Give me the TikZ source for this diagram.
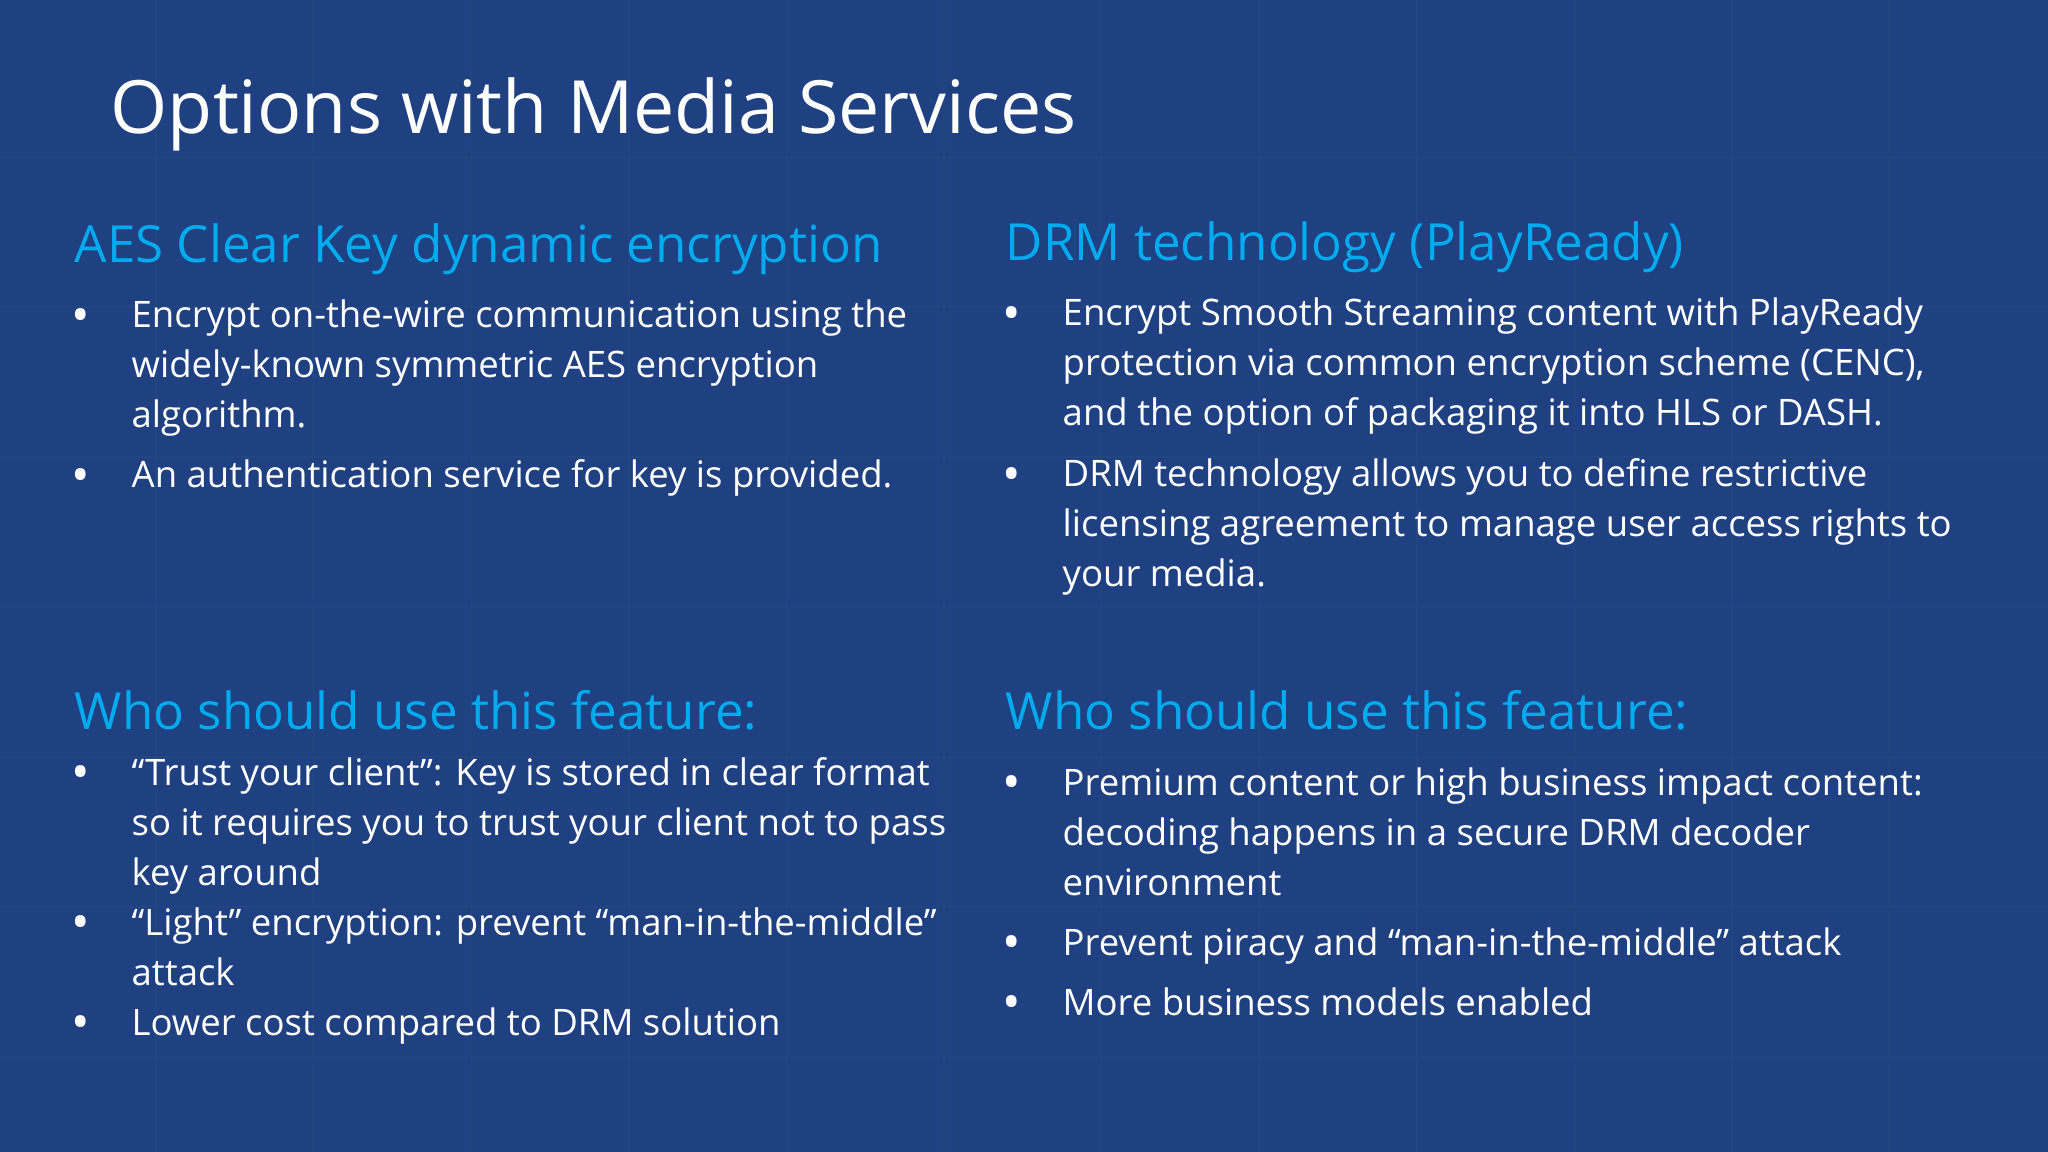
\documentclass[tikz,border=0pt]{standalone}
\usepackage{fontspec}
\setmainfont{Open Sans}
\definecolor{slidebg}{HTML}{1F4181}
\definecolor{slidegrid}{HTML}{234680}
\definecolor{headblue}{HTML}{00AAEF}
\begin{document}
\begin{tikzpicture}
[x=0.01cm,y=-0.01cm,
title/.style = {anchor=base west, inner sep=0pt, text=white, font=\fontsize{20.9}{25}\selectfont},
head/.style = {anchor=base west, inner sep=0pt, text=headblue, font=\fontsize{14.55}{18}\selectfont},
line/.style = {anchor=base west, inner sep=0pt, text=white, font=\fontsize{10.38}{14}\selectfont},
dot/.style = {anchor=base, inner sep=0pt, yshift=-1.4pt, text=white, font=\fontsize{14}{14}\selectfont},]

\fill [slidebg] (0,0) rectangle (2048,1152);
\useasboundingbox (0,0) rectangle (2048,1152);
\foreach \gx in {0,...,12} \draw [slidegrid,line width=0.4pt] (\gx*157.6-1.6,0)--(\gx*157.6-1.6,1152);
\foreach \gy in {1,...,7} \draw [slidegrid,line width=0.4pt] (0,\gy*150+7)--(2048,\gy*150+7);

\node (T) at (110,134)[title] {Options with Media Services};

\node (H1) at (74,263)[head] {AES Clear Key dynamic encryption};
\node (B1) at (81,328)[dot] {•};
\node (A1) at (131,328)[line] {Encrypt on-the-wire communication using the};
\node (A2) at (131,378)[line] {widely-known symmetric AES encryption};
\node (A3) at (131,428)[line] {algorithm.};
\node (B2) at (81,488)[dot] {•};
\node (A4) at (131,488)[line] {An authentication service for key is provided.};

\node (H2) at (1005,261)[head] {DRM technology (PlayReady)};
\node (B3) at (1012,326)[dot] {•};
\node (C1) at (1062,326)[line] {Encrypt Smooth Streaming content with PlayReady};
\node (C2) at (1062,376)[line] {protection via common encryption scheme (CENC),};
\node (C3) at (1062,426)[line] {and the option of packaging it into HLS or DASH.};
\node (B4) at (1012,487)[dot] {•};
\node (C4) at (1062,487)[line] {DRM technology allows you to define restrictive};
\node (C5) at (1062,537)[line] {licensing agreement to manage user access rights to};
\node (C6) at (1062,587)[line] {your media.};

\node (H3) at (74,729)[head] {Who should use this feature:};
\node (B5) at (81,785)[dot] {•};
\node (D1) at (131,785)[line] {“Trust your client”: Key is stored in clear format};
\node (D2) at (131,835)[line] {so it requires you to trust your client not to pass};
\node (D3) at (131,885)[line] {key around};
\node (B6) at (81,935)[dot] {•};
\node (D4) at (131,935)[line] {“Light” encryption: prevent “man-in-the-middle”};
\node (D5) at (131,985)[line] {attack};
\node (B7) at (81,1035)[dot] {•};
\node (D6) at (131,1035)[line] {Lower cost compared to DRM solution};

\node (H4) at (1005,729)[head] {Who should use this feature:};
\node (B8) at (1012,795)[dot] {•};
\node (E1) at (1062,795)[line] {Premium content or high business impact content:};
\node (E2) at (1062,845)[line] {decoding happens in a secure DRM decoder};
\node (E3) at (1062,895)[line] {environment};
\node (B9) at (1012,955)[dot] {•};
\node (E4) at (1062,955)[line] {Prevent piracy and “man-in-the-middle” attack};
\node (B10) at (1012,1015)[dot] {•};
\node (E5) at (1062,1015)[line] {More business models enabled};

\end{tikzpicture}
\end{document}
